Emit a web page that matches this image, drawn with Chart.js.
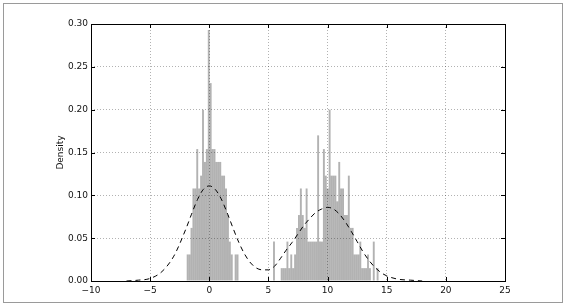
<!DOCTYPE html>
<html>
<head>
<meta charset="utf-8">
<script src="https://cdn.jsdelivr.net/npm/chart.js@4/dist/chart.umd.min.js"></script>
<style>
  html, body { margin: 0; padding: 0; background: #fff; }
  #wrap { position: relative; width: 566px; height: 308px; }
</style>
</head>
<body>
<div id="wrap"><canvas id="histChart" width="566" height="308"></canvas></div>
<script>
// histogram: 100 equal bins, first edge and bin width
const binStart = -1.91;
const binWidth = 0.1622;
// bar heights (density) per bin, left to right
const histDensity = [
  0.031, 0.031, 0.062, 0.108, 0.108, 0.154, 0.108, 0.123, 0.200, 0.139,
  0.154, 0.293, 0.231, 0.154, 0.154, 0.139, 0.139, 0.139, 0.123, 0.123,
  0.108, 0.077, 0.046, 0.031, 0, 0.031, 0.031, 0, 0, 0,
  0, 0, 0, 0, 0, 0, 0, 0, 0, 0,
  0, 0, 0, 0, 0, 0.046, 0, 0, 0, 0.015,
  0.015, 0.015, 0.046, 0.015, 0.031, 0.015, 0.031, 0.062, 0.077, 0.108,
  0.077, 0.062, 0.108, 0.046, 0.046, 0.046, 0.046, 0.046, 0.170, 0.046,
  0.046, 0.154, 0.123, 0.108, 0.200, 0.123, 0.123, 0.123, 0.093, 0.139,
  0.108, 0.108, 0.077, 0.077, 0.123, 0.062, 0.062, 0.031, 0.031, 0.031,
  0.046, 0.015, 0.015, 0.015, 0.031, 0.015, 0, 0.046, 0, 0.015
];

// dashed density curve (kde), read at these x positions
const kdeX = [-7, -6, -5, -4, -3, -2, -1.5, -1, -0.5, 0, 0.5, 1, 1.5, 2, 2.5, 3, 3.5, 4, 4.5, 5,
  5.5, 6, 6.5, 7, 7.5, 8, 8.5, 9, 9.5, 10, 10.5, 11, 11.5, 12, 12.5, 13, 13.5, 14, 14.5, 15, 16, 17, 18];
const kdeY = [0, 0.001, 0.003, 0.011, 0.029, 0.060, 0.078, 0.095, 0.107, 0.111, 0.107, 0.096, 0.080, 0.062, 0.045, 0.031, 0.021, 0.015, 0.013, 0.013,
  0.017, 0.026, 0.036, 0.045, 0.055, 0.065, 0.073, 0.080, 0.084, 0.086, 0.084, 0.078, 0.069, 0.058, 0.046, 0.034, 0.024, 0.016, 0.010, 0.006, 0.002, 0.001, 0];

const xTicks = [-10, -5, 0, 5, 10, 15, 20, 25];
const yTicks = [0, 0.05, 0.10, 0.15, 0.20, 0.25, 0.30];

const histPoints = histDensity.map((v, i) => ({ x: binStart + binWidth * (i + 0.5), y: v }));
const kdePoints = kdeX.map((x, i) => ({ x: x, y: kdeY[i] }));

// frame around the axes, inward tick marks, and the grey border of the figure
const framePlugin = {
  id: 'frame',
  beforeDraw(chart) {
    const c = chart.ctx;
    c.save();
    c.strokeStyle = '#9a9a9a';
    c.lineWidth = 1;
    c.strokeRect(3.5, 3.5, 559, 299);
    c.restore();
  },
  afterDraw(chart) {
    const c = chart.ctx;
    const a = chart.chartArea;
    const xs = chart.scales.x, ys = chart.scales.y;
    c.save();
    c.strokeStyle = '#000';
    c.lineWidth = 1;
    c.strokeRect(Math.round(a.left) + 0.5, Math.round(a.top) + 0.5,
      Math.round(a.right - a.left), Math.round(a.bottom - a.top));
    c.beginPath();
    xTicks.forEach(t => {
      const px = Math.round(xs.getPixelForValue(t)) + 0.5;
      c.moveTo(px, a.bottom); c.lineTo(px, a.bottom - 4);
      c.moveTo(px, a.top); c.lineTo(px, a.top + 4);
    });
    yTicks.forEach(t => {
      const py = Math.round(ys.getPixelForValue(t)) + 0.5;
      c.moveTo(a.left, py); c.lineTo(a.left + 4, py);
      c.moveTo(a.right, py); c.lineTo(a.right - 4, py);
    });
    c.stroke();
    c.restore();
  }
};

const tickFont = { family: 'DejaVu Sans', size: 9 };

new Chart(document.getElementById('histChart').getContext('2d'), {
  type: 'bar',
  data: {
    datasets: [{
      type: 'bar',
      data: histPoints,
      backgroundColor: 'rgba(0, 0, 0, 0.3)',
      borderWidth: 0,
      inflateAmount: 0,
      barPercentage: 1,
      categoryPercentage: 1,
      order: 2
    }, {
      type: 'line',
      data: kdePoints,
      borderColor: '#000',
      borderWidth: 1,
      borderDash: [5, 4],
      pointRadius: 0,
      cubicInterpolationMode: 'monotone',
      fill: false,
      order: 1
    }]
  },
  options: {
    responsive: false,
    animation: false,
    layout: { padding: { left: 0, right: 61, top: 24, bottom: 0 } },
    plugins: {
      legend: { display: false },
      tooltip: { enabled: false }
    },
    scales: {
      x: {
        type: 'linear',
        offset: false,
        min: -10,
        max: 25,
        afterBuildTicks: s => { s.ticks = xTicks.map(v => ({ value: v })); },
        afterFit: s => { s.height = 27; },
        grid: {
          offset: false,
          color: 'rgba(0, 0, 0, 0.3)',
          lineWidth: 1,
          drawTicks: false
        },
        border: { display: false, dash: [1, 2] },
        ticks: {
          padding: 4,
          color: '#111',
          font: tickFont,
          maxRotation: 0,
          callback: v => (v < 0 ? '\u2212' + Math.abs(v) : String(v))
        }
      },
      y: {
        min: 0,
        max: 0.3,
        afterBuildTicks: s => { s.ticks = yTicks.map(v => ({ value: v })); },
        afterFit: s => { s.width = 91; },
        grid: {
          color: 'rgba(0, 0, 0, 0.3)',
          lineWidth: 1,
          drawTicks: false
        },
        border: { display: false, dash: [1, 2] },
        ticks: {
          padding: 3,
          color: '#111',
          font: tickFont,
          callback: v => v.toFixed(2)
        },
        title: {
          display: true,
          text: 'Density',
          color: '#111',
          font: tickFont,
          padding: { top: 55, bottom: 0 }
        }
      }
    }
  },
  plugins: [framePlugin]
});
</script>
</body>
</html>
